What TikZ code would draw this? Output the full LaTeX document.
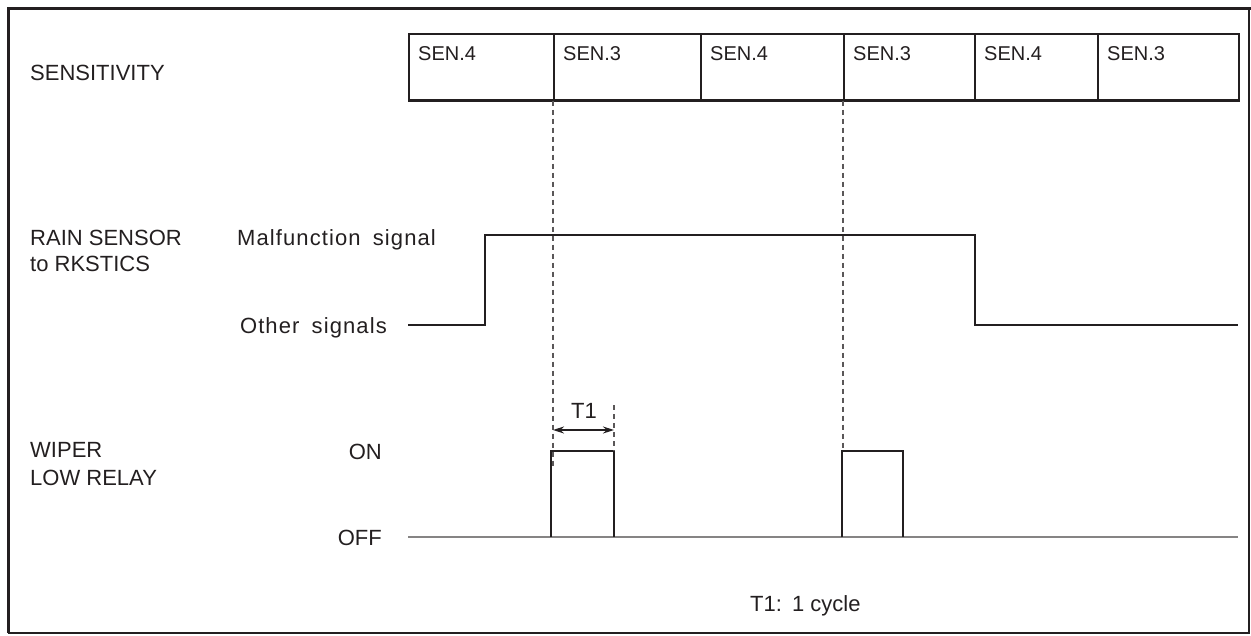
\documentclass[tikz,border=0pt]{standalone}
\usepackage{fontspec}
\setmainfont{Liberation Sans}
\usetikzlibrary{arrows.meta}
\definecolor{ink}{HTML}{231F20}
\begin{document}
\begin{tikzpicture}[x=1pt,y=-1pt,
  lbl/.style={font=\fontsize{22}{26}\selectfont, text=ink, inner sep=0pt},
  wide/.style={font=\fontsize{22}{26}\selectfont\addfontfeature{LetterSpace=5}, text=ink, inner sep=0pt},
  sen/.style={font=\fontsize{20}{24}\selectfont, text=ink, inner sep=0pt, anchor=base west},
  cell/.style={draw=ink, line width=1.5pt, anchor=north west, minimum height=66pt, inner sep=0pt},
  sig/.style={draw=ink, line width=2.6pt, line join=miter},
  offline/.style={draw=ink!55, line width=1.5pt},
  guide/.style={draw=ink!75, line width=1.3pt, dash pattern=on 5pt off 4pt},
  dim/.style={draw=ink, line width=1.5pt, {Stealth[length=11pt,width=7pt]}-{Stealth[length=11pt,width=7pt]}}
]
\useasboundingbox (0,0) rectangle (1251,635);
% frame
\draw[ink, line width=2pt] (8.5,8.5) rectangle (1249,633);
\draw[ink, line width=3pt] (7,8.5) -- (1251,8.5);
\draw[ink, line width=3pt] (8.5,7) -- (8.5,633);

% sensitivity cells
\node[cell, minimum width=145pt] (c1) at (408,33) {};
\node[cell, minimum width=147pt] (c2) at (553,33) {};
\node[cell, minimum width=143pt] (c3) at (700,33) {};
\node[cell, minimum width=131pt] (c4) at (843,33) {};
\node[cell, minimum width=123pt] (c5) at (974,33) {};
\node[cell, minimum width=141pt] (c6) at (1097,33) {};
\draw[ink, line width=3pt] (c1.south west) -- (c6.south east);

\node[sen] (s1) at (418,60) {SEN.4};
\node[sen] (s2) at (563,60) {SEN.3};
\node[sen] (s3) at (710,60) {SEN.4};
\node[sen] (s4) at (853,60) {SEN.3};
\node[sen] (s5) at (984,60) {SEN.4};
\node[sen] (s6) at (1107,60) {SEN.3};

% row labels
\node[lbl, anchor=base west] (lsens) at (30,80) {SENSITIVITY};
\node[lbl, anchor=base west] (lrain1) at (30,245) {RAIN SENSOR};
\node[lbl, anchor=base west] (lrain2) at (30,271) {to RKSTICS};
\node[wide, anchor=base west] (lmal) at (237,245) {Malfunction\hspace{5pt} signal};
\node[wide, anchor=base east] (loth) at (387,333) {Other\hspace{5pt} signals};
\node[lbl, anchor=base west] (lwip1) at (30,457) {WIPER};
\node[lbl, anchor=base west] (lwip2) at (30,485) {LOW RELAY};
\node[lbl, anchor=base east] (lon) at (382,459) {ON};
\node[lbl, anchor=base east] (loff) at (382,545) {OFF};

% rain sensor signal
\coordinate (r0) at (408,325);
\coordinate (r1) at (485,325);
\coordinate (r2) at (485,235);
\coordinate (r3) at (975,235);
\coordinate (r4) at (975,325);
\coordinate (r5) at (1238,325);
\draw[sig] (r0) -- (r1) -- (r2) -- (r3) -- (r4) -- (r5);

% wiper low relay
\coordinate (w0) at (408,537);
\coordinate (w9) at (1238,537);
\draw[offline] (w0) -- (w9);
\coordinate (p1a) at (551,537);
\coordinate (p1b) at (551,451);
\coordinate (p1c) at (614,451);
\coordinate (p1d) at (614,537);
\draw[sig] (p1a) -- (p1b) -- (p1c) -- (p1d);
\coordinate (p2a) at (842,537);
\coordinate (p2b) at (842,451);
\coordinate (p2c) at (903,451);
\coordinate (p2d) at (903,537);
\draw[sig] (p2a) -- (p2b) -- (p2c) -- (p2d);

% guides
\coordinate (g1) at (553,468);
\coordinate (g2) at (843,451);
\coordinate (t1top) at (614,405);
\draw[guide] (c2.south west) -- (g1);
\draw[guide] (c4.south west) -- (g2);
\draw[guide] (t1top) -- (p1c);

% T1 dimension
\coordinate (a1) at (553,430);
\coordinate (a2) at (614,430);
\draw[dim] (a1) -- (a2);
\node[lbl, anchor=base] (lt1) at (584,418) {T1};

\node[lbl, anchor=base west] (lnote) at (750,611) {T1:\hspace{2pt} 1 cycle};
\end{tikzpicture}
\end{document}
